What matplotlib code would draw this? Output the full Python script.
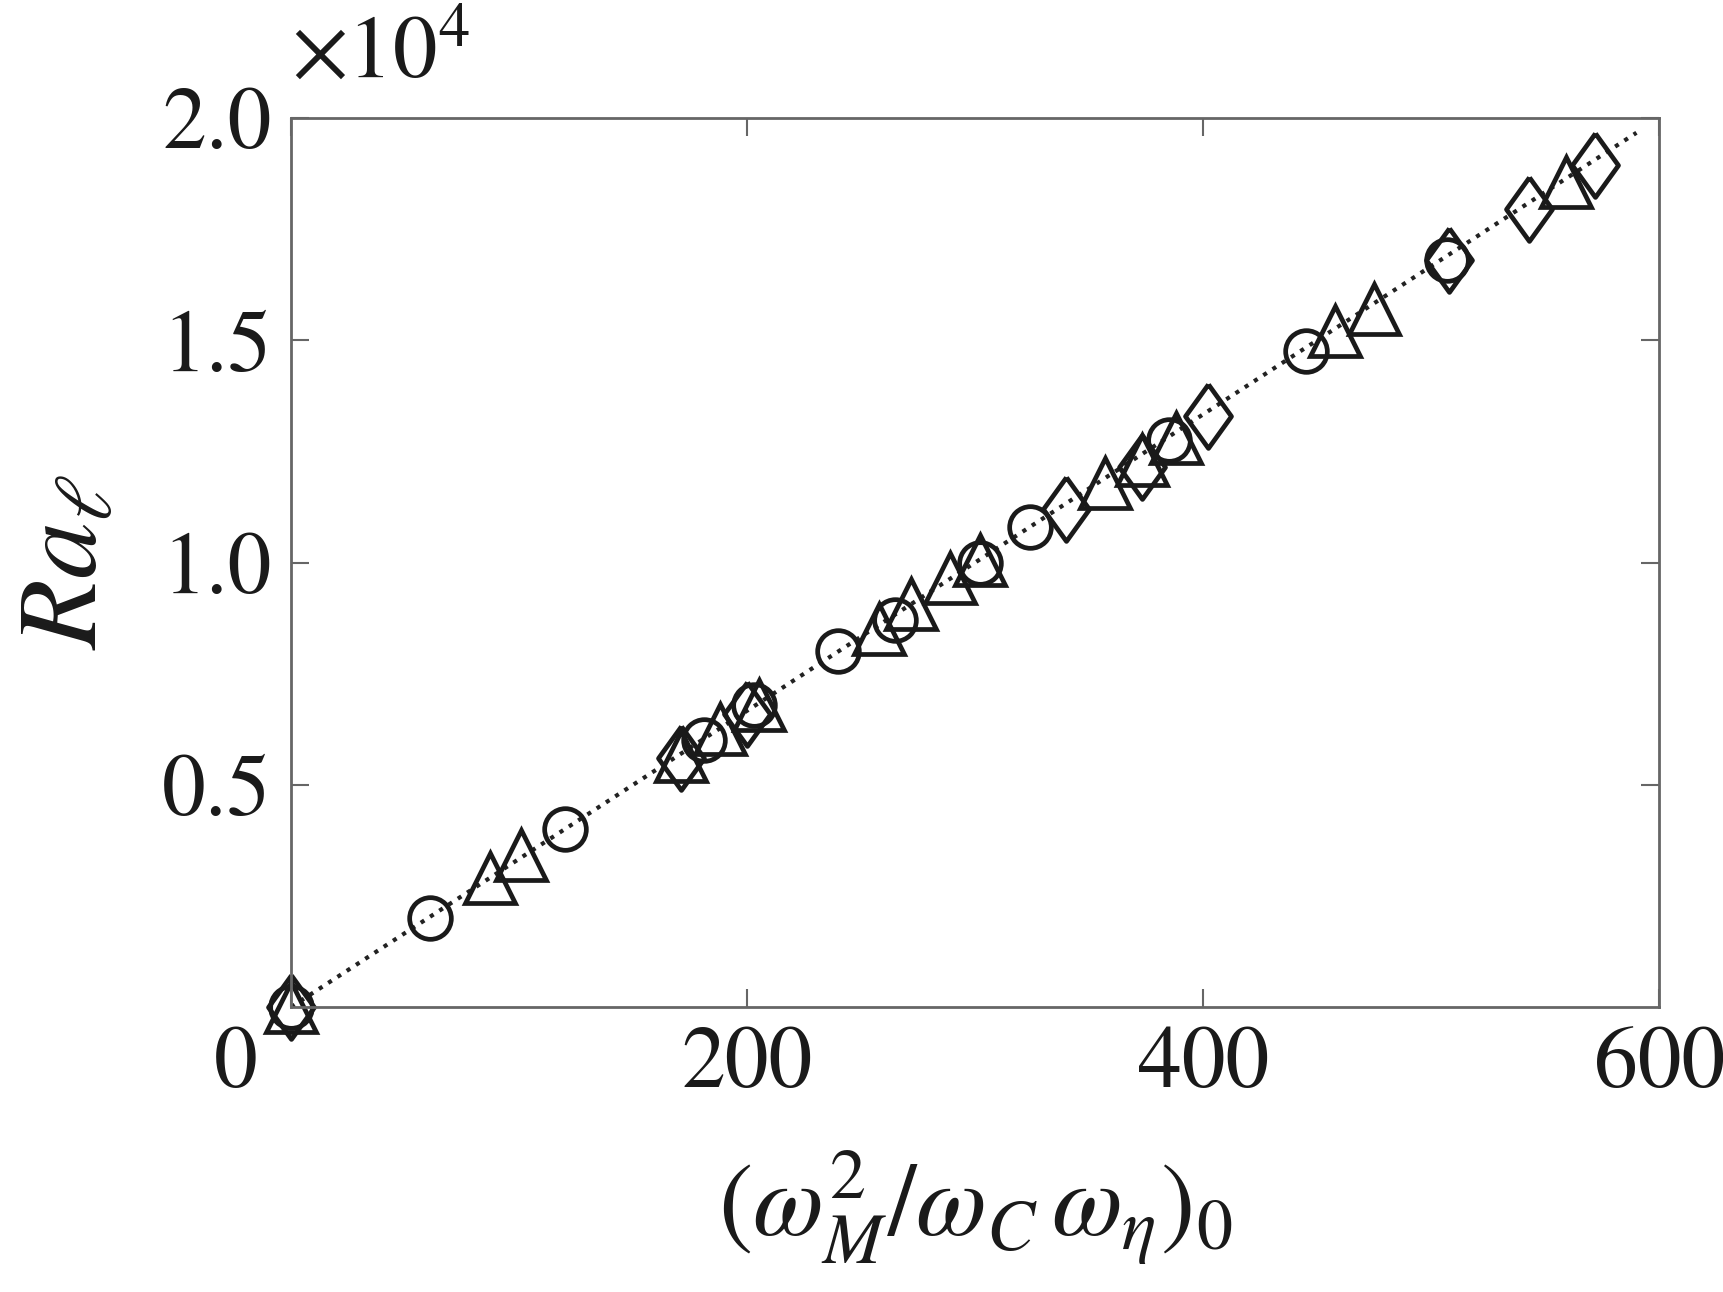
import numpy as np
import matplotlib
matplotlib.use('Agg')
import matplotlib.pyplot as plt
import matplotlib.transforms as mtransforms

plt.rcParams['font.family'] = ['STIXGeneral', 'Liberation Serif', 'DejaVu Serif']
plt.rcParams['mathtext.fontset'] = 'stix'

# data
circ_x = [0, 61, 120, 181, 203, 240, 265, 302, 324, 385, 445, 507]
circ_y = [0, 2000, 4000, 6000, 6800, 8000, 8700, 10000, 10800, 12750, 14770, 16800]

tri_x = [0, 87, 101, 171, 188, 205, 258, 272, 289, 302, 357, 373, 388, 458, 475, 559]
tri_y = [0, 2900, 3430, 5650, 6250, 6800, 8500, 9060, 9650, 10050, 11800, 12300, 12800, 15200, 15700, 18570]

dia_x = [0, 171, 200, 340, 373, 402, 508, 543, 572]
dia_y = [0, 5600, 6600, 11200, 12150, 13300, 16800, 17950, 18940]

fit_x = [0, 590]
fit_y = [0, 19670]

xticks = [0, 200, 400, 600]
yticks = [5000, 10000, 15000, 20000]
ytick_labels = ['0.5', '1.0', '1.5', '2.0']

fig = plt.figure(figsize=(17.23, 12.92), dpi=100)
ax = fig.add_axes([0.169, 0.2206, 0.794, 0.688])

ax.plot(fit_x, fit_y, ':', color='#222222', lw=3, zorder=1)

diamond = [(0, 1), (0.72, 0), (0, -1), (-0.72, 0), (0, 1)]

mk = dict(linestyle='none', mfc='none', mec='#1a1a1a', mew=3.4, zorder=2, clip_on=False)
ax.plot(circ_x, circ_y, marker='o', ms=30, **mk)
ax.plot(tri_x, tri_y, marker='^', ms=36, **mk)
ax.plot(dia_x, dia_y, marker=diamond, ms=46, **mk)

ax.set_xlim(0, 600)
ax.set_ylim(0, 20000)
ax.set_xticks(xticks)
ax.set_xticklabels([str(v) for v in xticks])
ax.set_yticks(yticks)
ax.set_yticklabels(ytick_labels)
ax.tick_params(direction='in', length=13, width=1.5, color='#666666',
               labelsize=63, top=True, right=True, pad=14, labelcolor='#1a1a1a')
for s in ax.spines.values():
    s.set_color('#666666')
    s.set_linewidth(2)

# the "0" on the x axis sits left of its tick in the original
zero_lbl = ax.get_xticklabels()[0]
zero_lbl.set_transform(zero_lbl.get_transform() +
                       mtransforms.ScaledTranslation(-0.55, 0, fig.dpi_scale_trans))

ax.text(0.0, 1.025, r'$\times$10$^4$', transform=ax.transAxes, fontsize=64,
        ha='left', va='bottom', color='#1a1a1a')

ax.set_xlabel(r'$(\omega_M^2/\omega_C\,\omega_\eta)_0$', fontsize=74,
              color='#1a1a1a', labelpad=30)
ax.set_ylabel(r'$Ra_{\ell}$', fontsize=82, color='#1a1a1a', labelpad=30)

fig.savefig('out.png', dpi=100)
